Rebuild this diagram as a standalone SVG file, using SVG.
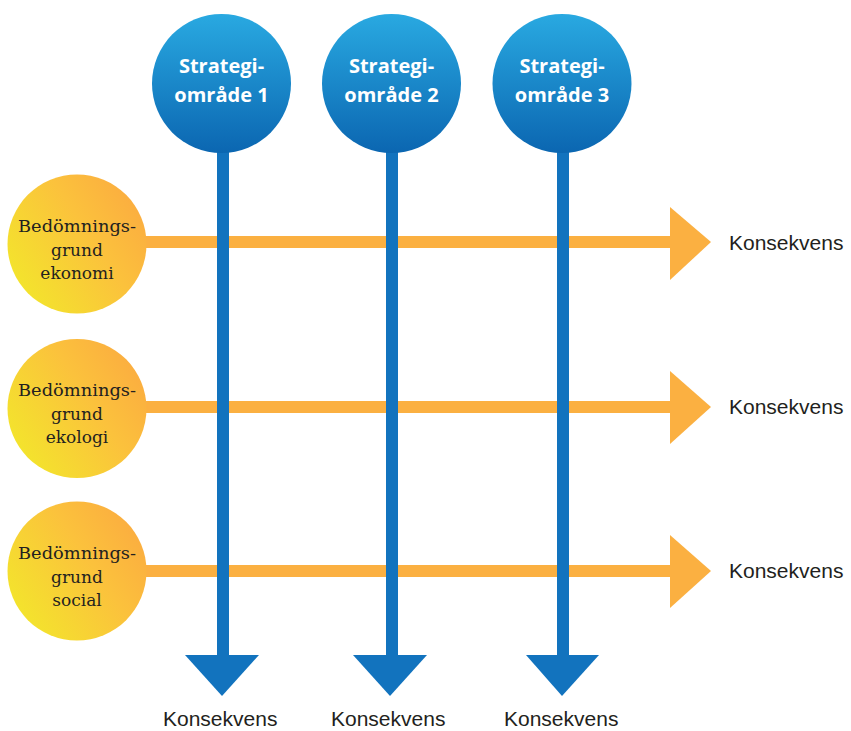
<svg xmlns="http://www.w3.org/2000/svg" width="851" height="731" viewBox="0 0 851 731">
<defs>
<linearGradient id="gBlue" x1="0" y1="0" x2="0" y2="1">
<stop offset="0" stop-color="#29a9e1"/>
<stop offset="1" stop-color="#0b66b1"/>
</linearGradient>
<linearGradient id="gOrange" x1="0.05" y1="0.8" x2="0.95" y2="0.2">
<stop offset="0" stop-color="#f3e52c"/>
<stop offset="0.6" stop-color="#fbc23c"/>
<stop offset="1" stop-color="#fbad40"/>
</linearGradient>
<style>
.bshaft{fill:#1273be}
.bhead{fill:#1273be}
.oshaft{fill:#fbb041}
.ohead{fill:#fbb041}
.bc{fill:url(#gBlue)}
.oc{fill:url(#gOrange)}
.bt{font-family:"Open Sans","Liberation Sans",sans-serif;font-weight:bold;font-size:20px;fill:#ffffff;text-anchor:middle}
.ot{font-family:"DejaVu Serif",serif;font-size:17px;fill:#231f20;text-anchor:middle}
.kt{font-family:"Liberation Sans",sans-serif;font-size:21px;fill:#231f20}
</style>
</defs>
<rect width="851" height="731" fill="#ffffff"/>
<g id="connectors">
<g id="row-arrows">
<rect class="oshaft" x="140" y="236" width="532" height="12"/>
<polygon class="ohead" points="670,207 711,242 670,280"/>
<rect class="oshaft" x="140" y="401" width="532" height="12"/>
<polygon class="ohead" points="670,371 711,407 670,444"/>
<rect class="oshaft" x="140" y="565" width="532" height="12"/>
<polygon class="ohead" points="670,535 711,571 670,608"/>
</g>
<g id="col-arrows">
<rect class="bshaft" x="217" y="140" width="12" height="517"/>
<polygon class="bhead" points="185,655 259,655 222,696"/>
<rect class="bshaft" x="386" y="140" width="12" height="517"/>
<polygon class="bhead" points="353,655 427,655 390,696"/>
<rect class="bshaft" x="557" y="140" width="12" height="517"/>
<polygon class="bhead" points="526,655 599,655 562,696"/>
</g>
</g>
<g id="strategi1">
<circle class="bc" cx="221.5" cy="83.5" r="69.5"/>
<text class="bt" x="221.5" y="73">Strategi-</text>
<text class="bt" x="221.5" y="102">område 1</text>
</g>
<g id="strategi2">
<circle class="bc" cx="391.5" cy="83.5" r="69.5"/>
<text class="bt" x="391.5" y="73">Strategi-</text>
<text class="bt" x="391.5" y="102">område 2</text>
</g>
<g id="strategi3">
<circle class="bc" cx="562" cy="83.5" r="69.5"/>
<text class="bt" x="562" y="73">Strategi-</text>
<text class="bt" x="562" y="102">område 3</text>
</g>
<g id="ekonomi">
<circle class="oc" cx="77" cy="244" r="69.5"/>
<text class="ot" x="77" y="232" textLength="118" lengthAdjust="spacingAndGlyphs">Bedömnings-</text>
<text class="ot" x="77" y="256">grund</text>
<text class="ot" x="77" y="279">ekonomi</text>
</g>
<g id="ekologi">
<circle class="oc" cx="77" cy="408.5" r="69.5"/>
<text class="ot" x="77" y="396" textLength="118" lengthAdjust="spacingAndGlyphs">Bedömnings-</text>
<text class="ot" x="77" y="420">grund</text>
<text class="ot" x="77" y="443">ekologi</text>
</g>
<g id="social">
<circle class="oc" cx="77" cy="571" r="69.5"/>
<text class="ot" x="77" y="559" textLength="118" lengthAdjust="spacingAndGlyphs">Bedömnings-</text>
<text class="ot" x="77" y="583">grund</text>
<text class="ot" x="77" y="606">social</text>
</g>
<g id="konsekvens-labels">
<text class="kt" x="729" y="250">Konsekvens</text>
<text class="kt" x="729" y="414">Konsekvens</text>
<text class="kt" x="729" y="578">Konsekvens</text>
<text class="kt" x="163" y="726">Konsekvens</text>
<text class="kt" x="331" y="726">Konsekvens</text>
<text class="kt" x="504" y="726">Konsekvens</text>
</g>
</svg>
